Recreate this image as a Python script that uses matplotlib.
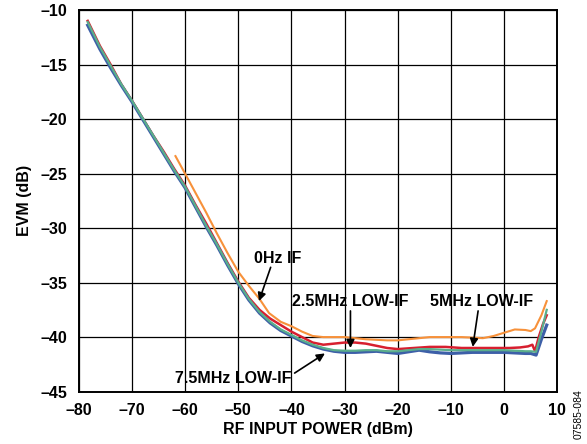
import matplotlib
matplotlib.use("Agg")
from matplotlib import pyplot as plt

# RF input power (dBm) and EVM (dB) per IF setting
x_red = [-78.3, -76, -74, -72, -70, -68, -66, -64, -62, -60, -58, -56, -54, -52, -50,
         -48, -46, -44, -42, -40, -38, -36, -34, -32, -30, -28, -26, -24, -22, -20,
         -17, -14, -11, -8, -5, -2, 1, 3, 4.5, 5.3, 5.8, 6.5, 7.3, 8.0]
evm_red = [-11.0, -13.3, -15.0, -16.8, -18.3, -19.9, -21.5, -23.0, -24.6, -26.1, -27.9, -29.6, -31.4, -33.2, -34.9,
           -36.4, -37.5, -38.3, -38.9, -39.5, -40.0, -40.5, -40.7, -40.6, -40.5, -40.5, -40.6, -40.8, -41.0, -41.1,
           -41.0, -40.9, -40.9, -41.0, -41.0, -41.0, -41.0, -40.95, -40.85, -40.7, -41.3, -40.0, -38.8, -38.0]

x_main = [-78.3, -76, -74, -72, -70, -68, -66, -64, -62, -60, -58, -56, -54, -52, -50,
          -48, -46, -44, -42, -40, -38, -36, -34, -32, -30, -28, -26, -24, -22, -20,
          -18, -16, -14, -12, -10, -8, -6, -4, -2, 0, 2, 4, 5, 6, 7, 8]
evm_blue = [-11.4, -13.6, -15.3, -16.9, -18.4, -20.0, -21.6, -23.2, -24.8, -26.3, -28.1, -29.9, -31.6, -33.4, -35.1,
            -36.6, -37.8, -38.7, -39.4, -39.9, -40.4, -40.8, -41.1, -41.3, -41.4, -41.4, -41.35, -41.3, -41.4, -41.5,
            -41.35, -41.2, -41.35, -41.45, -41.5, -41.45, -41.4, -41.4, -41.4, -41.4, -41.45, -41.5, -41.5, -41.65, -40.2, -38.9]
evm_green = [-11.1, -13.4, -15.1, -16.8, -18.3, -19.9, -21.5, -23.1, -24.7, -26.2, -28.0, -29.8, -31.5, -33.3, -35.0,
             -36.5, -37.7, -38.6, -39.3, -39.8, -40.3, -40.7, -41.0, -41.2, -41.25, -41.25, -41.2, -41.2, -41.3, -41.3,
             -41.2, -41.1, -41.1, -41.15, -41.2, -41.2, -41.2, -41.2, -41.2, -41.2, -41.25, -41.3, -41.3, -41.35, -39.5, -37.5]

x_orange = [-61.8, -60, -58, -56, -54, -52, -50, -48, -46, -44.2, -42, -40, -38, -36, -34, -32, -30,
            -28, -26, -24, -22, -20, -18, -16, -14, -12, -10, -8, -6, -4, -2, 0, 2, 4, 5, 5.8, 7, 8]
evm_orange = [-23.4, -25.0, -26.8, -28.6, -30.5, -32.3, -34.0, -35.3, -36.5, -37.8, -38.6, -39.0, -39.5, -39.9, -40.0, -40.0, -40.0,
              -40.1, -40.2, -40.25, -40.3, -40.3, -40.2, -40.1, -40.0, -40.0, -40.0, -40.0, -40.05, -40.1, -39.9, -39.6, -39.3, -39.35, -39.45, -39.2, -38.0, -36.7]

x_ticks = [-80, -70, -60, -50, -40, -30, -20, -10, 0, 10]
y_ticks = [-45, -40, -35, -30, -25, -20, -15, -10]

plt.rcParams['font.family'] = ['Liberation Sans', 'DejaVu Sans']
plt.rcParams['font.weight'] = 'bold'
fs = 11.5

fig = plt.figure(figsize=(5.87, 4.44), dpi=100)
ax = fig.add_axes([0.134, 0.118, 0.8155, 0.8595])

ax.plot(x_orange, evm_orange, color='#f7913a', lw=1.5, zorder=3)
ax.plot(x_red, evm_red, color='#d71f2f', lw=1.8, zorder=3)
ax.plot(x_main, evm_blue, color='#3d5fa8', lw=2.3, zorder=3)
ax.plot(x_main, evm_green, color='#5aae8c', lw=1.6, zorder=4)

ax.set_xlim(-80, 10)
ax.set_ylim(-45, -10)
ax.set_xticks(x_ticks)
ax.set_yticks(y_ticks)
ax.set_xticklabels([str(t).replace('-', '\u2013') for t in x_ticks], fontsize=fs, fontweight='bold')
ax.set_yticklabels([str(t).replace('-', '\u2013') for t in y_ticks], fontsize=fs, fontweight='bold')
ax.tick_params(length=0, pad=8)
ax.grid(True, color='black', lw=0.9)
ax.set_axisbelow(True)
for s in ax.spines.values():
    s.set_linewidth(1.4)

ax.set_xlabel('RF INPUT POWER (dBm)', fontsize=fs, fontweight='bold', labelpad=3)
ax.set_ylabel('EVM (dB)', fontsize=fs, fontweight='bold', labelpad=6)

arrow = dict(arrowstyle='-|>', color='black', lw=1.2, mutation_scale=12, shrinkA=0, shrinkB=0)
ax.text(-42.6, -32.8, '0Hz IF', ha='center', va='center', fontsize=fs, fontweight='bold')
ax.annotate('', xy=(-46.1, -36.7), xytext=(-43.9, -33.6), arrowprops=arrow)
ax.text(-28.9, -36.76, '2.5MHz LOW-IF', ha='center', va='center', fontsize=fs, fontweight='bold')
ax.annotate('', xy=(-28.9, -41.0), xytext=(-28.9, -37.6), arrowprops=arrow)
ax.text(-4.2, -36.76, '5MHz LOW-IF', ha='center', va='center', fontsize=fs, fontweight='bold')
ax.annotate('', xy=(-5.9, -40.9), xytext=(-4.9, -37.6), arrowprops=arrow)
ax.text(-50.9, -43.8, '7.5MHz LOW-IF', ha='center', va='center', fontsize=fs, fontweight='bold')
ax.annotate('', xy=(-33.7, -41.5), xytext=(-39.4, -43.3), arrowprops=arrow)

fig.text(0.9855, 0.068, '07585-084', rotation=90, ha='center', va='center', fontsize=7.5, fontweight='normal')

fig.savefig('out.png', dpi=100)
